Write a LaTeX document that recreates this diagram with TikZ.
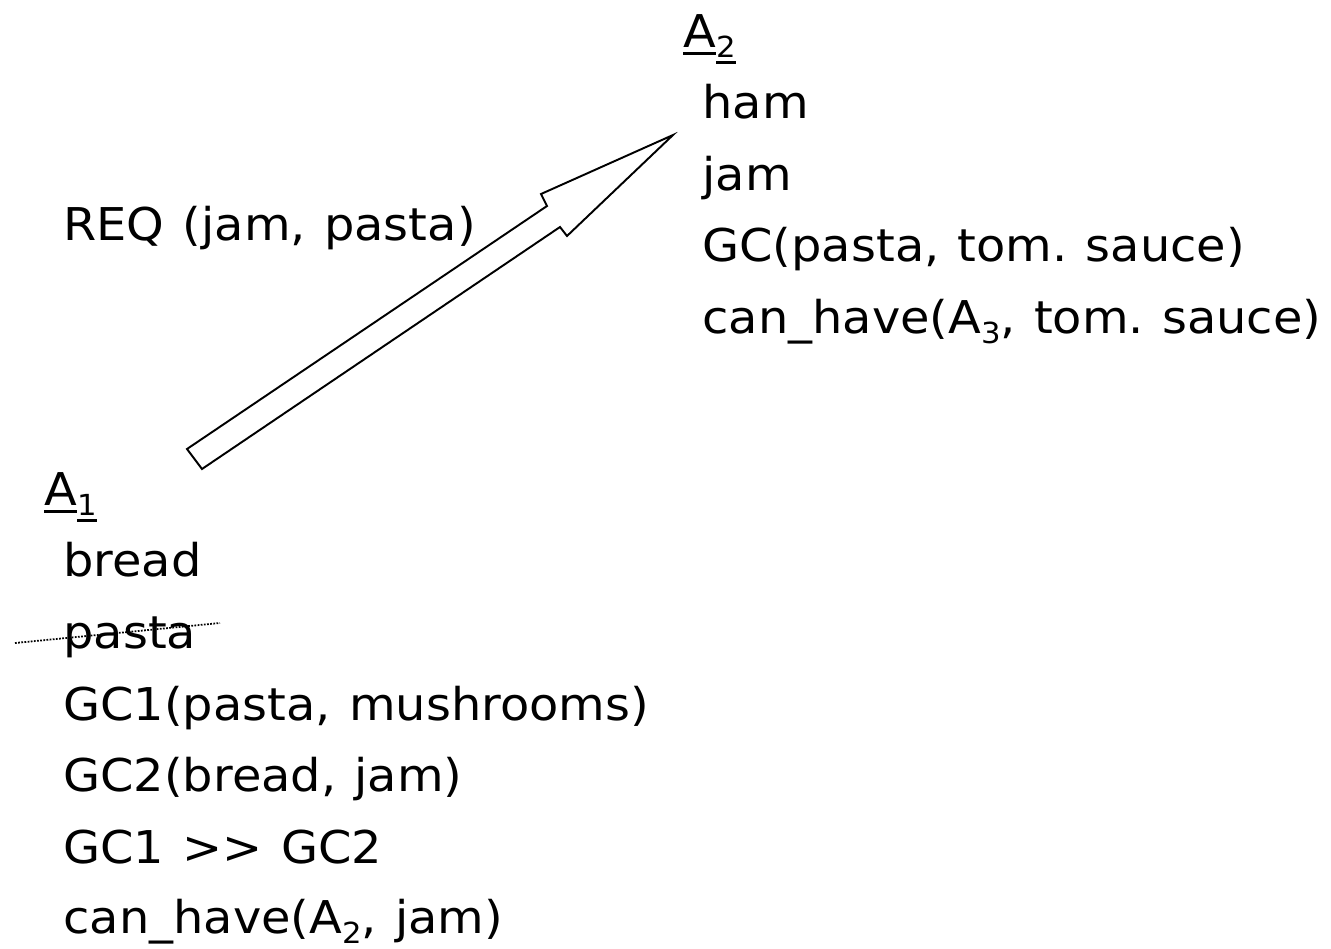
\documentclass[tikz,border=0pt]{standalone}
\usepackage{fontspec}
\setmainfont{DejaVu Sans}[FakeStretch=1.06, WordSpace=1.2]
\frenchspacing

% lowered, smaller index and a thick underline
\newcommand{\sub}[1]{\raisebox{-0.24em}{\fontsize{16.5pt}{18pt}\selectfont #1}}
\newcommand{\uln}[1]{\setbox0\hbox{#1}\rlap{\rule[\dimexpr-0.12em-1.5pt\relax]{\wd0}{1.5pt}}\box0}

\begin{document}
\begin{tikzpicture}[
  item/.style={anchor=base west, inner sep=0pt, font=\fontsize{25.7pt}{30pt}\selectfont},
  bigarrow/.style={draw=black, line width=1.1pt, line join=miter, fill=white},
  strike/.style={draw=black, line width=1pt, dash pattern=on 1pt off .8pt}
]
  \useasboundingbox (0,0) rectangle (26.62,-18.96);

  % first agent
  \node[item] (a1) at (0.88,-10.10) {\uln{A}\sub{\uln{1}}};
  \node[item] (bread) at (1.26,-11.52) {bread};
  \node[item] (pasta) at (1.26,-12.96) {pasta};
  \node[item] (gcone) at (1.26,-14.40) {GC1(pasta, mushrooms)};
  \node[item] (gctwo) at (1.26,-15.82) {GC2(bread, jam)};
  \node[item] (pref) at (1.26,-17.26) {GC1 >{}> GC2};
  \node[item] (canjam) at (1.26,-18.66) {can\_have(A\sub{2}, jam)};

  % second agent
  \node[item] (a2) at (13.66,-0.94) {\uln{A}\sub{\uln{2}}};
  \node[item] (ham) at (14.04,-2.36) {ham};
  \node[item] (jam) at (14.04,-3.80) {jam};
  \node[item] (gc) at (14.04,-5.22) {GC(pasta, tom. sauce)};
  \node[item] (cansauce) at (14.04,-6.66) {can\_have(A\sub{3}, tom. sauce)};

  \node[item] (req) at (1.26,-4.80) {REQ (jam, pasta)};

  % request arrow
  \draw[bigarrow] (3.74,-8.98) -- (10.94,-4.12) -- (10.82,-3.88) -- (13.46,-2.70)
    -- (11.34,-4.72) -- (11.20,-4.54) -- (4.04,-9.38) -- cycle;

  % pasta is given away
  \coordinate (strikeL) at (0.30,-12.86);
  \coordinate (strikeR) at (4.40,-12.46);
  \draw[strike] (strikeL) -- (strikeR);
\end{tikzpicture}
\end{document}
